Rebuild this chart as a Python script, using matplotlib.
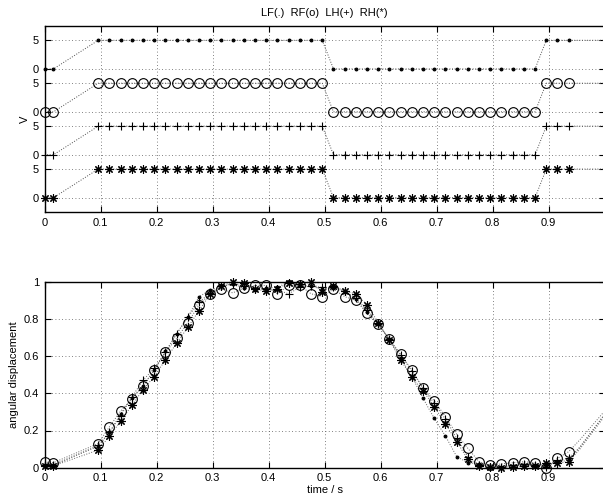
import numpy as np
import matplotlib
matplotlib.use("Agg")
import matplotlib.pyplot as plt

plt.rcParams["font.family"] = ["Liberation Sans", "DejaVu Sans"]
plt.rcParams["font.size"] = 8

# sample times (s)
t = [0.0, 0.016, 0.096, 0.116, 0.136, 0.156, 0.176, 0.196, 0.216, 0.236,
     0.256, 0.276, 0.296, 0.316, 0.336, 0.356, 0.376, 0.396, 0.416, 0.436,
     0.456, 0.476, 0.496, 0.516, 0.536, 0.556, 0.576, 0.596, 0.616, 0.636,
     0.656, 0.676, 0.696, 0.716, 0.736, 0.756, 0.776, 0.796, 0.816, 0.836,
     0.856, 0.876, 0.896, 0.916, 0.936]
# line continues past the last marker
tail_t = [0.956, 0.976, 0.996, 1.016]

# switching signals (V)
lf_sw = [0, 0] + [5] * 21 + [0] * 19 + [5] * 3
rf_sw = [0, 0] + [5] * 21 + [0] * 19 + [5] * 3
lh_sw = [0, 0] + [5] * 21 + [0] * 19 + [5] * 3
rh_sw = [0, 0] + [5] * 21 + [0] * 19 + [5] * 3
sw_tail = [5, 5, 5, 5]

# angular displacement
lf_ang = [0.015, 0.015, 0.115, 0.19, 0.29, 0.375, 0.44, 0.525, 0.625, 0.72,
          0.81, 0.92, 0.955, 0.975, 0.985, 0.965, 0.955, 0.965, 0.97, 1.0,
          0.98, 0.975, 0.96, 0.965, 0.945, 0.905, 0.835, 0.77, 0.69, 0.59,
          0.49, 0.373, 0.265, 0.17, 0.06, 0.027, 0.02, 0.005, 0.005, 0.01,
          0.015, 0.015, 0.015, 0.03, 0.04]
rf_ang = [0.03, 0.027, 0.13, 0.22, 0.305, 0.37, 0.44, 0.525, 0.62, 0.695,
          0.78, 0.875, 0.935, 0.96, 0.94, 0.965, 0.98, 0.98, 0.935, 0.98,
          0.98, 0.935, 0.92, 0.96, 0.92, 0.90, 0.83, 0.77, 0.69, 0.61,
          0.525, 0.427, 0.36, 0.274, 0.18, 0.104, 0.032, 0.015, 0.02, 0.027,
          0.032, 0.027, 0.0, 0.05, 0.086]
lh_ang = [0.015, 0.015, 0.12, 0.19, 0.28, 0.38, 0.47, 0.535, 0.62, 0.72,
          0.81, 0.89, 0.94, 0.975, 0.99, 0.975, 0.965, 0.96, 0.955, 0.935,
          0.97, 0.975, 0.97, 0.97, 0.95, 0.91, 0.85, 0.77, 0.69, 0.605,
          0.52, 0.427, 0.346, 0.26, 0.158, 0.06, 0.015, 0.005, 0.005, 0.015,
          0.02, 0.015, 0.002, 0.04, 0.05]
rh_ang = [0.01, 0.01, 0.095, 0.17, 0.25, 0.335, 0.42, 0.49, 0.58, 0.67,
          0.755, 0.845, 0.935, 0.975, 1.0, 0.995, 0.96, 0.95, 0.96, 0.995,
          0.985, 1.0, 0.946, 0.977, 0.95, 0.935, 0.875, 0.78, 0.685, 0.58,
          0.485, 0.414, 0.328, 0.235, 0.14, 0.045, 0.01, 0.005, 0.0, 0.005,
          0.01, 0.01, 0.027, 0.023, 0.032]
lf_tail = [0.11, 0.19, 0.27, 0.35]
rf_tail = [0.15, 0.22, 0.29, 0.36]
lh_tail = [0.11, 0.19, 0.27, 0.35]
rh_tail = [0.10, 0.18, 0.26, 0.34]

legs = ["LF", "RF", "LH", "RH"]
markers = {"LF": ".", "RF": "o", "LH": "+", "RH": (8, 2, 0)}
msizes = {"LF": 4, "RF": 7, "LH": 6, "RH": 6}
offsets = {"LF": 22.5, "RF": 15, "LH": 7.5, "RH": 0}
sw = {"LF": lf_sw, "RF": rf_sw, "LH": lh_sw, "RH": rh_sw}
ang = {"LF": lf_ang, "RF": rf_ang, "LH": lh_ang, "RH": rh_ang}
ang_tail = {"LF": lf_tail, "RF": rf_tail, "LH": lh_tail, "RH": rh_tail}

fig = plt.figure(figsize=(6.03, 5.0), dpi=100)
ax1 = fig.add_axes([0.0738, 0.576, 0.9287, 0.372])
ax2 = fig.add_axes([0.0738, 0.0646, 0.9287, 0.372])


def style(ax):
    ax.grid(True, linestyle=(0, (1, 3)), color="0.35", linewidth=0.6)
    ax.tick_params(direction="in", top=True, right=True, length=4,
                   width=0.8, labelsize=8, pad=4)
    for s in ax.spines.values():
        s.set_linewidth(1.0)
    ax.set_xlim(0, 1)
    ax.set_xticks([0, 0.1, 0.2, 0.3, 0.4, 0.5, 0.6, 0.7, 0.8, 0.9, 1.0])
    # the label of the last tick falls outside the picture
    ax.set_xticklabels(["0", "0.1", "0.2", "0.3", "0.4", "0.5", "0.6",
                        "0.7", "0.8", "0.9", ""])


# top: switching signals, stacked
for leg in legs:
    off = offsets[leg]
    ys = np.array(sw[leg] + sw_tail) + off
    ax1.plot(t + tail_t, ys, linestyle=":", color="0.3", linewidth=0.7)
    ax1.plot(t, np.array(sw[leg]) + off, linestyle="none", marker=markers[leg],
             ms=msizes[leg], mfc="none" if leg == "RF" else "k", mec="k",
             mew=0.8, clip_on=False)
style(ax1)
ax1.set_ylim(-2.5, 30)
ax1.set_yticks([0, 5, 7.5, 12.5, 15, 20, 22.5, 27.5])
ax1.set_yticklabels(["0", "5"] * 4)
ax1.set_ylabel("V", labelpad=2)
ax1.set_title("LF(.)  RF(o)  LH(+)  RH(*)", fontsize=8, pad=7)

# bottom: angular displacement
for leg in legs:
    ax2.plot(t + tail_t, ang[leg] + ang_tail[leg], linestyle=":",
             color="0.4", linewidth=0.7)
for leg in legs:
    ax2.plot(t, ang[leg], linestyle="none", marker=markers[leg],
             ms=msizes[leg], mfc="none" if leg == "RF" else "k", mec="k",
             mew=0.8, clip_on=False)
style(ax2)
ax2.set_ylim(0, 1)
ax2.set_yticks([0, 0.2, 0.4, 0.6, 0.8, 1.0])
ax2.set_yticklabels(["0", "0.2", "0.4", "0.6", "0.8", "1"])
ax2.set_ylabel("angular displacement", labelpad=3)
ax2.set_xlabel("time / s", labelpad=1)

fig.savefig("out.png", dpi=100)
